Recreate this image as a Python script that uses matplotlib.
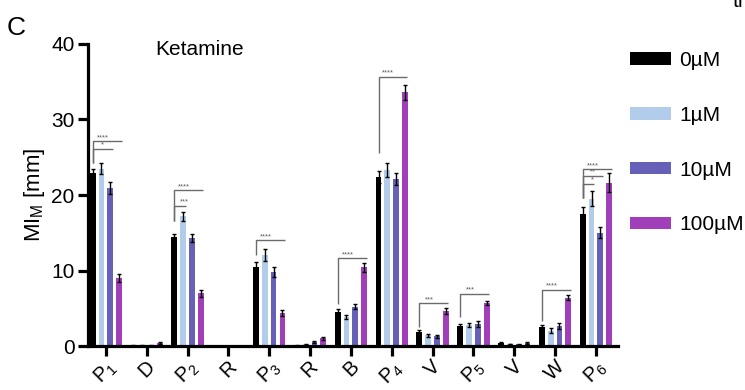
import numpy as np
import matplotlib
matplotlib.use("Agg")
import matplotlib.pyplot as plt

plt.rcParams['font.family'] = ['Liberation Sans', 'DejaVu Sans']
plt.rcParams['mathtext.fontset'] = 'custom'
plt.rcParams['mathtext.rm'] = 'Liberation Sans'
plt.rcParams['mathtext.it'] = 'Liberation Sans'
plt.rcParams['mathtext.default'] = 'regular'

# data (mean +- error, mm)
groups = ['P$_1$', 'D', 'P$_2$', 'R', 'P$_3$', 'R', 'B', 'P$_4$', 'V', 'P$_5$', 'V', 'W', 'P$_6$']
conc = ['0µM', '1µM', '10µM', '100µM']
v0 = [22.9, 0.1, 14.4, 0, 10.4, 0.1, 4.5, 22.4, 1.85, 2.65, 0.4, 2.5, 17.5]
v1 = [23.5, 0.05, 17.2, 0, 12.05, 0.2, 3.85, 23.3, 1.45, 2.8, 0.25, 2.05, 19.5]
v10 = [20.9, 0.1, 14.3, 0, 9.8, 0.55, 5.2, 22.1, 1.3, 2.9, 0.2, 2.7, 15.0]
v100 = [9.0, 0.4, 7.0, 0, 4.37, 1.0, 10.4, 33.6, 4.6, 5.7, 0.4, 6.4, 21.6]
e0 = [0.5, 0.05, 0.5, 0, 0.7, 0.05, 0.35, 0.8, 0.3, 0.2, 0.1, 0.25, 0.9]
e1 = [0.7, 0.03, 0.6, 0, 0.75, 0.05, 0.3, 0.9, 0.2, 0.3, 0.05, 0.3, 1.0]
e10 = [0.8, 0.05, 0.5, 0, 0.6, 0.1, 0.3, 0.8, 0.2, 0.35, 0.05, 0.4, 0.75]
e100 = [0.5, 0.1, 0.45, 0, 0.45, 0.2, 0.55, 1.0, 0.4, 0.3, 0.1, 0.35, 1.25]

# significance brackets: (group, compared bar, bracket height, label)
sig = [(0, 3, 27.1, '****'), (0, 2, 26.1, '*'),
       (2, 3, 20.6, '****'), (2, 1, 18.6, '***'),
       (4, 3, 14.0, '****'), (6, 3, 11.6, '****'), (7, 3, 35.6, '****'),
       (8, 3, 5.66, '***'), (9, 3, 6.9, '***'), (11, 3, 7.4, '****'),
       (12, 3, 23.4, '****'), (12, 2, 22.5, '**'), (12, 1, 21.5, '*')]
sig_base = {0: 24.2, 2: 16.6, 4: 12.05, 6: 5.56, 7: 25.5, 8: 2.56, 9: 3.8, 11: 3.35, 12: 19.6}

colors = ['#000000', '#b2ccec', '#6660b8', '#a03fb9']
vals = [v0, v1, v10, v100]
errs = [e0, e1, e10, e100]

fig = plt.figure(figsize=(7.45, 3.9), dpi=100)
ax = fig.add_axes([0.118, 0.1128, 0.7115, 0.7744])

x = np.arange(len(groups))
step = 0.216
width = 0.14
offs = (np.arange(4) - 1.5) * step
bars = []
for i in range(4):
    b = ax.bar(x + offs[i], vals[i], width, color=colors[i], label=conc[i], zorder=2)
    bars.append(b)
    v = np.array(vals[i])
    e = np.array(errs[i])
    m = v > 0
    ax.errorbar(x[m] + offs[i], v[m], yerr=e[m], fmt='none', ecolor='black',
                elinewidth=1.0, capsize=1.6, capthick=1.0, zorder=3)

for g, t, h, lab in sig:
    x0 = g + offs[0]
    x1 = g + offs[t] + 0.06
    ax.plot([x0, x0, x1], [sig_base[g], h, h], color='0.42', lw=1.0,
            solid_capstyle='butt', clip_on=False, zorder=4)
    ax.text(x0 + 0.24, h + 0.05, lab, fontsize=5.5, color='0.35',
            ha='center', va='bottom', clip_on=False)

ax.set_xlim(-0.44, 12.54)
ax.set_ylim(0, 40)
ax.set_yticks([0, 10, 20, 30, 40])
ax.set_xticks(x)
ax.set_xticklabels(groups, rotation=45, ha='center', va='top', fontsize=14.5)
for s in ['top', 'right']:
    ax.spines[s].set_visible(False)
for s in ['left', 'bottom']:
    ax.spines[s].set_linewidth(2.3)
ax.tick_params(axis='both', direction='out', length=7.5, width=2.3,
               labelsize=15, pad=2)
ax.tick_params(axis='x', pad=0.5, labelsize=14.5)
ax.set_ylabel('MI$_M$ [mm]', fontsize=16, labelpad=3)

fig.text(7 / 745, 1 - 35 / 390, 'C', fontsize=19, va='baseline', ha='left')
fig.text(155 / 745, 1 - 55 / 390, 'Ketamine', fontsize=15, va='baseline', ha='left')
fig.text(733 / 745, 1 - 7 / 390, 'the', fontsize=15, va='baseline', ha='left')

fig.legend(handles=bars, labels=conc, loc='upper left',
           bbox_to_anchor=(630 / 745, 1 - 51 / 390), frameon=False,
           fontsize=15, handlelength=1.97, handleheight=0.53,
           handletextpad=0.4, labelspacing=1.72, borderpad=0, borderaxespad=0)

fig.savefig('out.png', dpi=100)
